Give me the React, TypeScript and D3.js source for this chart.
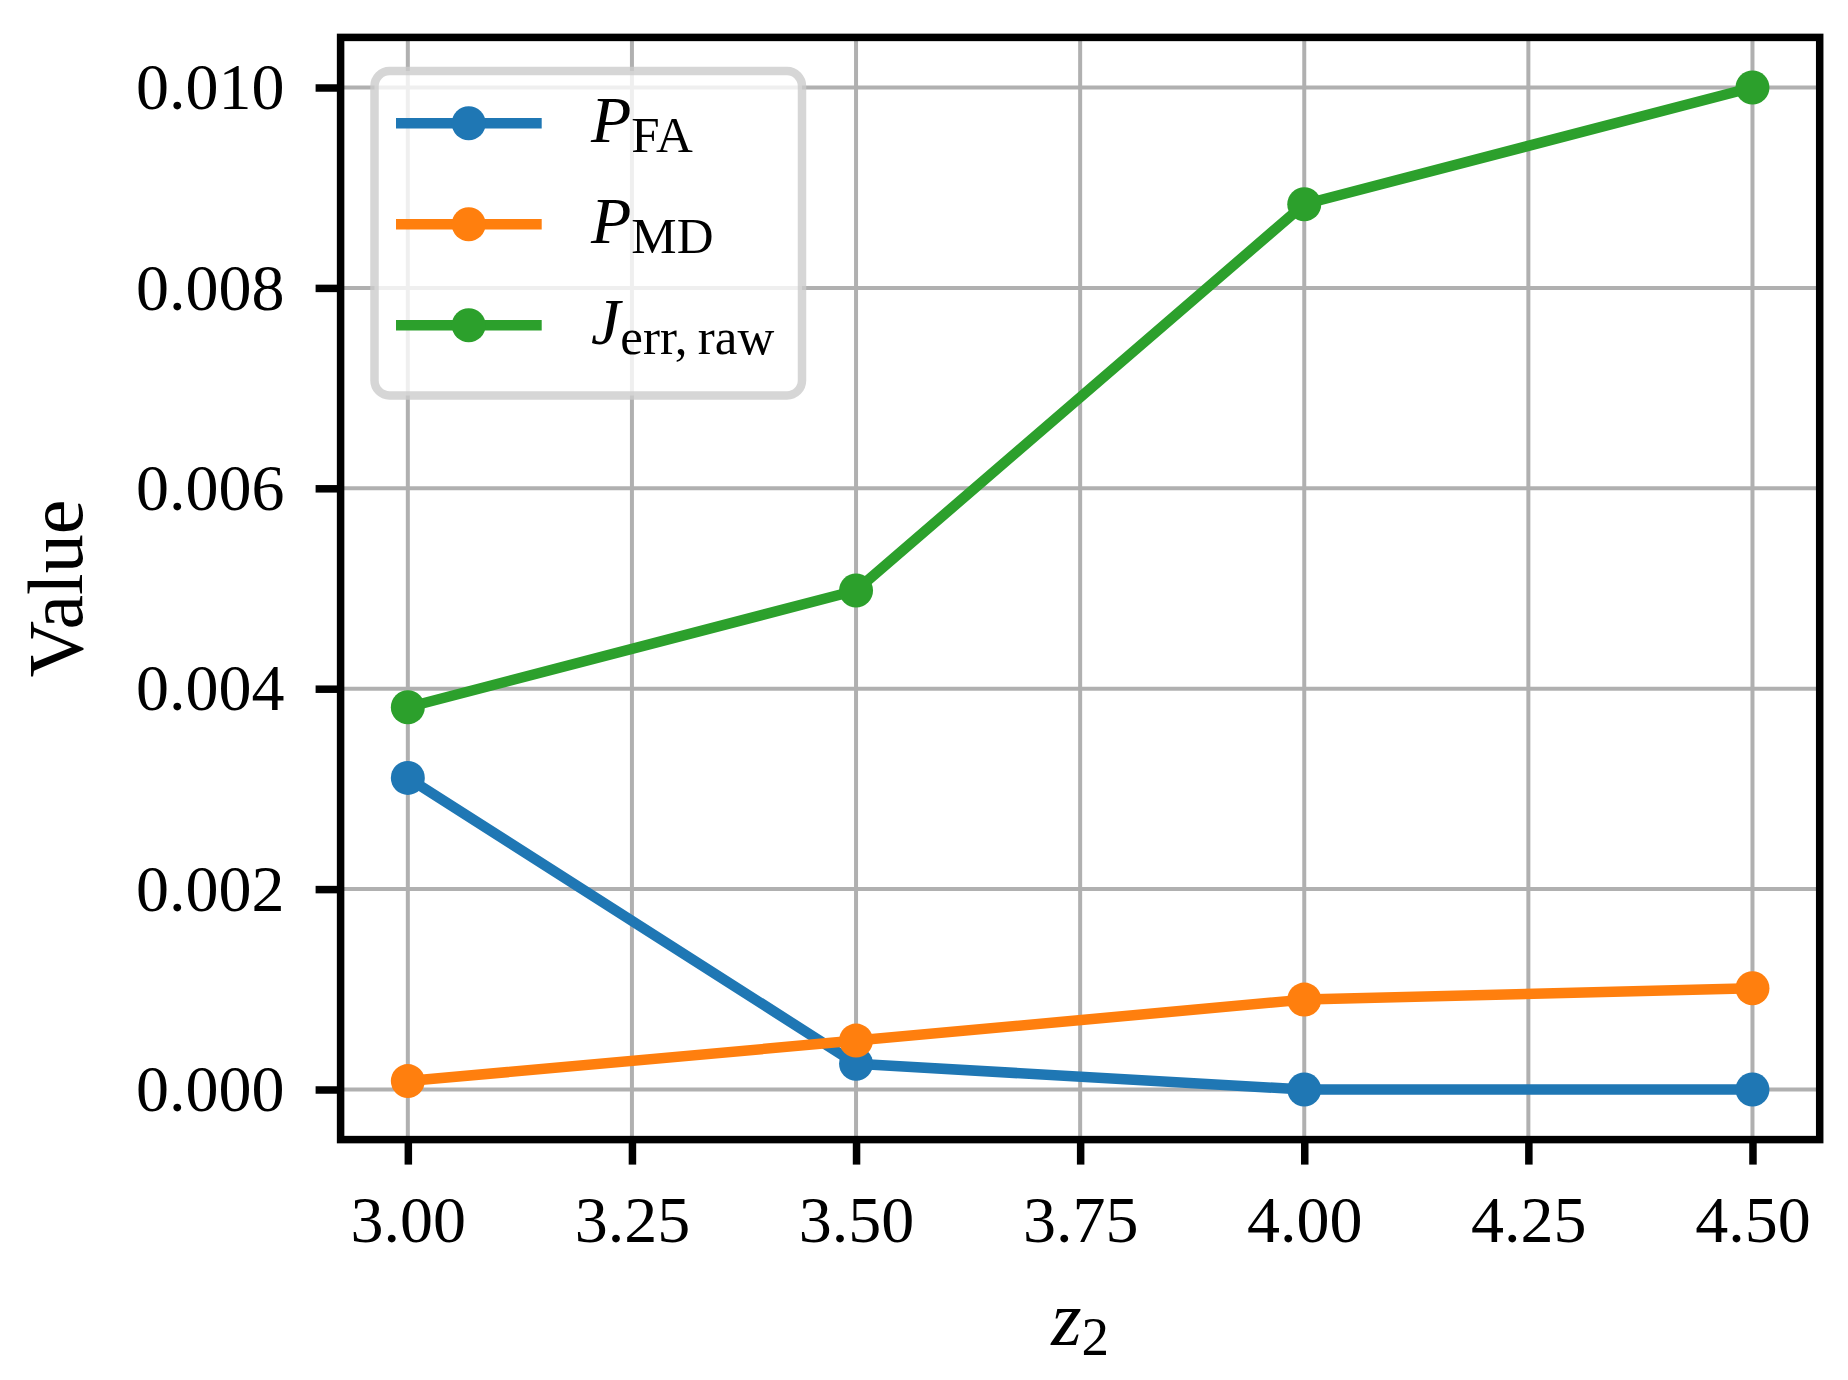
import * as d3 from "d3";
import React, { useEffect, useRef } from "react";

// z2 values on the x axis
const xValues = [3.0, 3.5, 4.0, 4.5];

// series values
const pFA = [0.00311, 0.000256, 0.0, 0.0];
const pMD = [0.000084, 0.000488, 0.000897, 0.00101];
const jErr = [0.003815, 0.00498, 0.008835, 0.01];

const seriesNames = ["FA", "MD", "err"];
const seriesColors = ["#1f77b4", "#ff7f0e", "#2ca02c"];

// tick labels
const xTicks = [3.0, 3.25, 3.5, 3.75, 4.0, 4.25, 4.5];
const yTicks = [0.0, 0.002, 0.004, 0.006, 0.008, 0.01];

const FONT = "'Liberation Serif', 'Times New Roman', serif";

const App: React.FC = () => {
  const ref = useRef<SVGSVGElement>(null);

  useEffect(() => {
    const width = 1848;
    const height = 1380;
    const margin = { top: 37.4, right: width - 1819.7, bottom: height - 1139.6, left: 340.6 };

    d3.select(ref.current).selectAll("*").remove();

    const svg = d3.select(ref.current)
      .attr("width", width)
      .attr("height", height)
      .style("font-family", FONT);

    svg.append("rect")
      .attr("width", width)
      .attr("height", height)
      .attr("fill", "#ffffff");

    const x = d3.scaleLinear()
      .domain([2.925, 4.575])
      .range([margin.left, width - margin.right]);

    const y = d3.scaleLinear()
      .domain([-0.0005, 0.0105])
      .range([height - margin.bottom, margin.top]);

    // Grid
    const grid = svg.append("g").attr("class", "grid");
    grid.selectAll("line.vx")
      .data(xTicks)
      .enter()
      .append("line")
      .attr("x1", (d) => x(d))
      .attr("x2", (d) => x(d))
      .attr("y1", margin.top)
      .attr("y2", height - margin.bottom)
      .attr("stroke", "#b0b0b0")
      .attr("stroke-width", 4);
    grid.selectAll("line.hy")
      .data(yTicks)
      .enter()
      .append("line")
      .attr("x1", margin.left)
      .attr("x2", width - margin.right)
      .attr("y1", (d) => y(d))
      .attr("y2", (d) => y(d))
      .attr("stroke", "#b0b0b0")
      .attr("stroke-width", 4);

    // Lines + markers
    const allSeries = [pFA, pMD, jErr];
    const line = d3.line<number>()
      .x((_, i) => x(xValues[i]))
      .y((d) => y(d));

    allSeries.forEach((values, si) => {
      const g = svg.append("g").attr("class", `series-${seriesNames[si]}`);
      g.append("path")
        .datum(values)
        .attr("d", line)
        .attr("fill", "none")
        .attr("stroke", seriesColors[si])
        .attr("stroke-width", 10.5)
        .attr("stroke-linejoin", "round");
      g.selectAll("circle")
        .data(values)
        .enter()
        .append("circle")
        .attr("cx", (_, i) => x(xValues[i]))
        .attr("cy", (d) => y(d))
        .attr("r", 17)
        .attr("fill", seriesColors[si]);
    });

    // Spines
    svg.append("rect")
      .attr("x", margin.left)
      .attr("y", margin.top)
      .attr("width", width - margin.left - margin.right)
      .attr("height", height - margin.top - margin.bottom)
      .attr("fill", "none")
      .attr("stroke", "#000000")
      .attr("stroke-width", 7.5);

    // X axis
    const xAxis = svg.append("g")
      .attr("transform", `translate(0,${height - margin.bottom})`)
      .call(
        d3.axisBottom(x)
          .tickValues(xTicks)
          .tickFormat(d3.format(".2f"))
          .tickSize(25)
          .tickPadding(31)
      );
    xAxis.select(".domain").remove();
    xAxis.selectAll("line").attr("stroke", "#000").attr("stroke-width", 7.5);
    xAxis.selectAll("text")
      .attr("fill", "#000")
      .style("font-size", "66px")
      .style("font-family", FONT);

    // Y axis
    const yAxis = svg.append("g")
      .attr("transform", `translate(${margin.left},0)`)
      .call(
        d3.axisLeft(y)
          .tickValues(yTicks)
          .tickFormat(d3.format(".3f"))
          .tickSize(25)
          .tickPadding(31)
      );
    yAxis.select(".domain").remove();
    yAxis.selectAll("line").attr("stroke", "#000").attr("stroke-width", 7.5);
    yAxis.selectAll("text")
      .attr("fill", "#000")
      .style("font-size", "66px")
      .style("font-family", FONT);

    // Axis labels
    const xLabel = svg.append("text")
      .attr("x", (margin.left + width - margin.right) / 2)
      .attr("y", 1345)
      .attr("text-anchor", "middle")
      .style("font-size", "78px");
    xLabel.append("tspan").style("font-style", "italic").text("z");
    xLabel.append("tspan").attr("dy", 10).style("font-size", "55px").text("2");

    svg.append("text")
      .attr("transform", `translate(82,${(margin.top + height - margin.bottom) / 2}) rotate(-90)`)
      .attr("text-anchor", "middle")
      .style("font-size", "78px")
      .text("Value");

    // Legend
    const legend = svg.append("g").attr("class", "legend");
    legend.append("rect")
      .attr("x", 374.5)
      .attr("y", 71)
      .attr("width", 427.5)
      .attr("height", 324.5)
      .attr("rx", 15)
      .attr("fill", "#ffffff")
      .attr("fill-opacity", 0.8)
      .attr("stroke", "#cccccc")
      .attr("stroke-opacity", 0.8)
      .attr("stroke-width", 8.5);

    const rowY = [123.3, 224.3, 325.3];
    const mainLetters = ["P", "P", "J"];
    const subs = ["FA", "MD", "err,\u2009raw"];

    seriesNames.forEach((_, i) => {
      legend.append("line")
        .attr("x1", 396)
        .attr("x2", 541.7)
        .attr("y1", rowY[i])
        .attr("y2", rowY[i])
        .attr("stroke", seriesColors[i])
        .attr("stroke-width", 10.5);
      legend.append("circle")
        .attr("cx", 468.7)
        .attr("cy", rowY[i])
        .attr("r", 17)
        .attr("fill", seriesColors[i]);
      const t = legend.append("text")
        .attr("x", 591)
        .attr("y", rowY[i] + 18.4)
        .style("font-size", "66px");
      t.append("tspan").style("font-style", "italic").text(mainLetters[i]);
      t.append("tspan").attr("dy", 10).style("font-size", "51px").text(subs[i]);
    });
  }, []);

  return (
    <div style={{ position: "absolute", left: 0, top: 0 }}>
      <svg ref={ref} style={{ display: "block" }}></svg>
    </div>
  );
};

export default App;
